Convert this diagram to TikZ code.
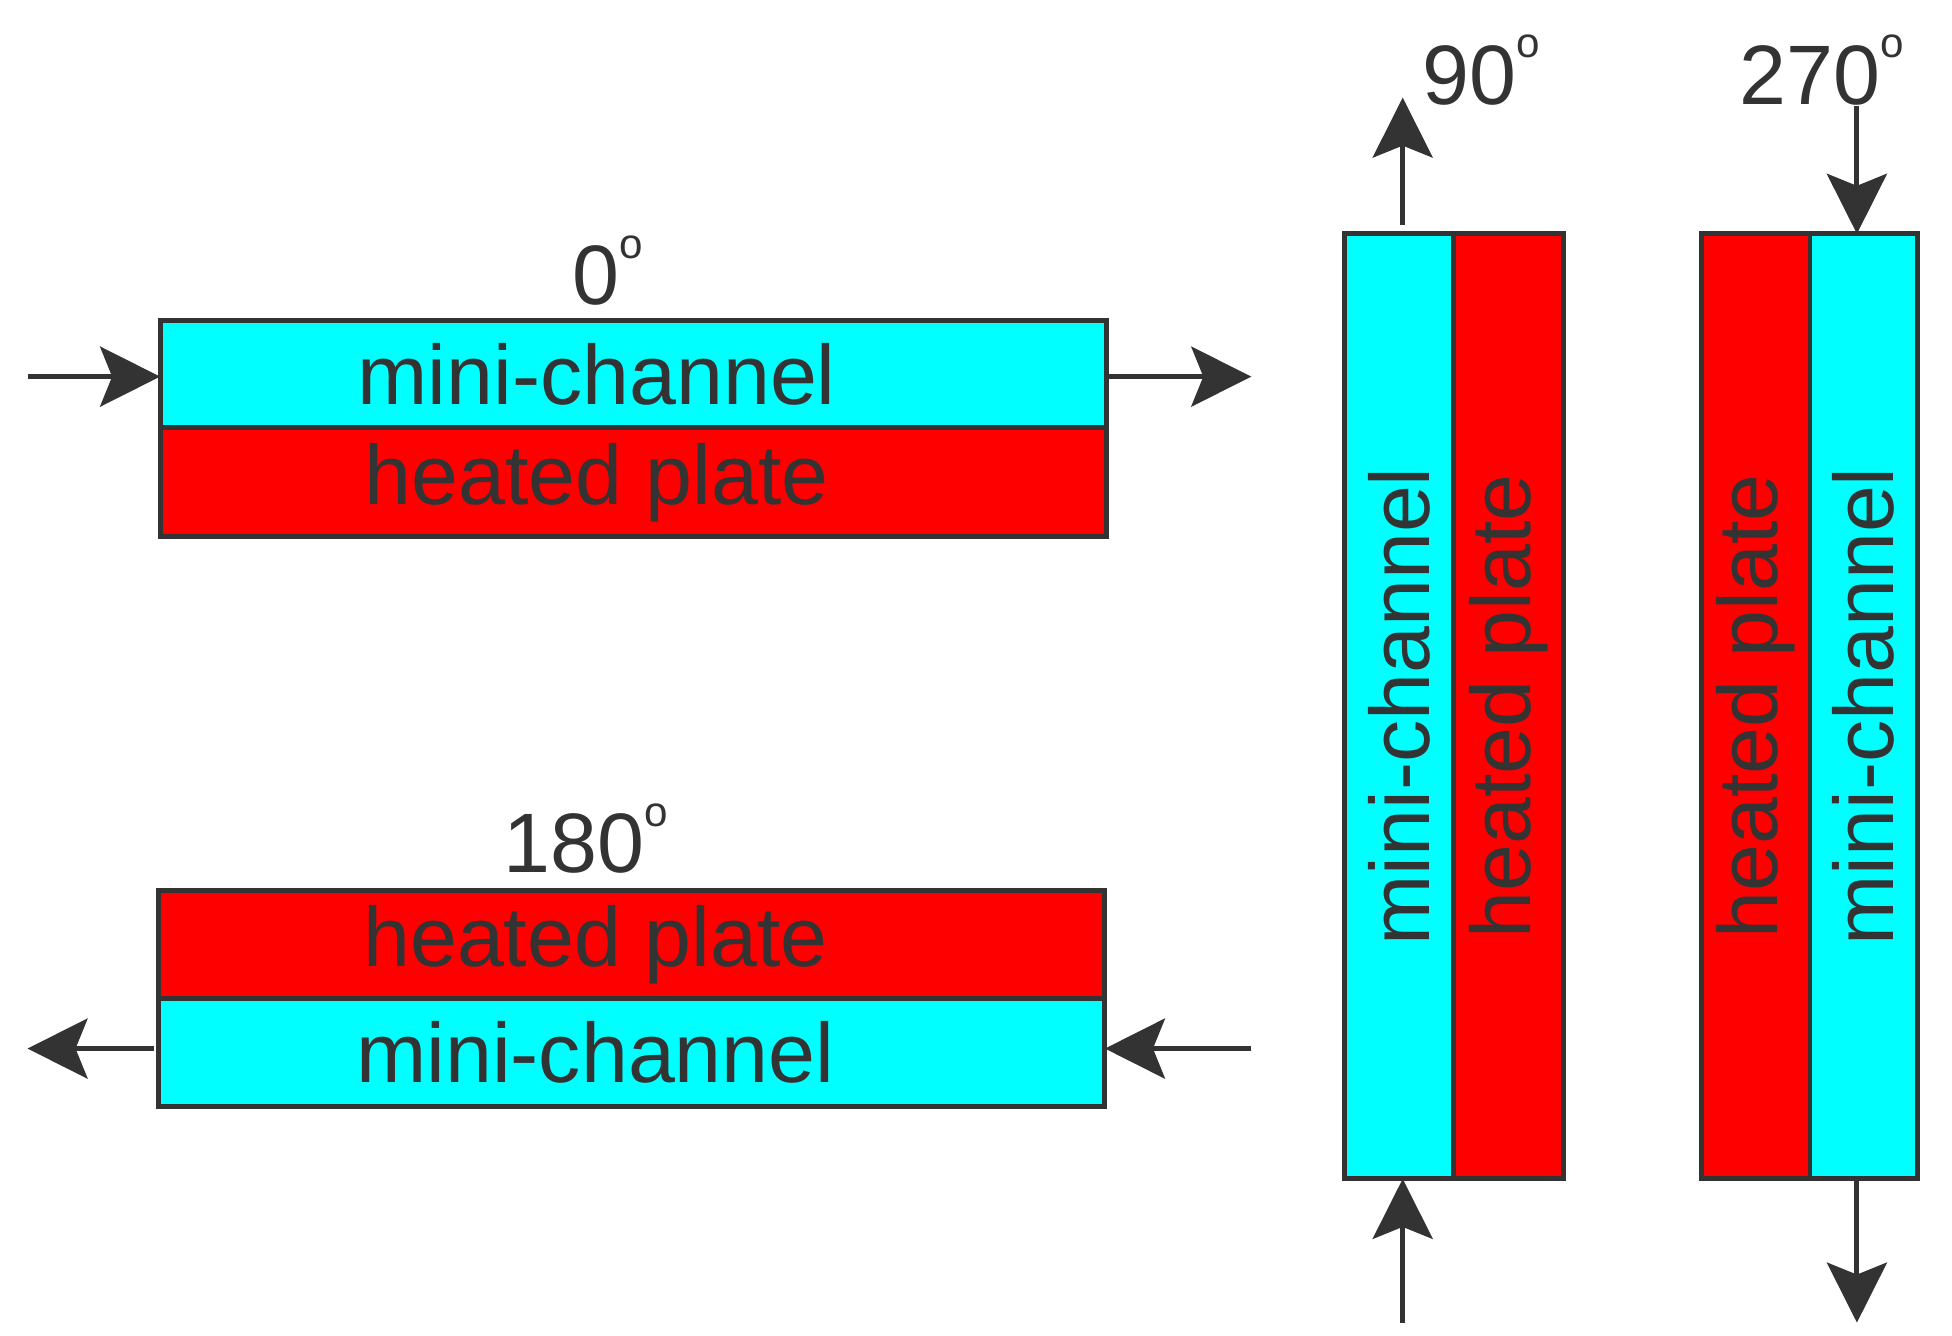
\documentclass[tikz,border=0pt]{standalone}
\usepackage{fontspec}
\setmainfont{Liberation Sans}
\usetikzlibrary{arrows.meta}
\definecolor{ink}{HTML}{333333}
\definecolor{cyn}{RGB}{0,255,255}
\definecolor{rdd}{RGB}{255,0,0}
\begin{document}
\begin{tikzpicture}[x=0.012513cm,y=-0.012513cm,
  box/.style={draw=ink,line width=1.4pt,inner sep=0,outer sep=0,text=ink,font=\fontsize{24}{28}\selectfont},
  cy/.style={box,fill=cyn},
  rd/.style={box,fill=rdd},
  arr/.style={draw=ink,line width=1.4pt,-{Stealth[length=0.6cm,width=0.6cm,inset=0.12cm]}},
  deg/.style={text=ink,font=\fontsize{24}{28}\selectfont,inner sep=0}]
\useasboundingbox (0,0) rectangle (1560,1067.7);
\def\sh{\kern-0.73cm}
\def\dg{\raisebox{0.55em}{\fontsize{12}{12}\selectfont o}}
% 0 deg
\node[cy,minimum width=9.46cm,minimum height=1.076cm] (c0) at (506,299) {\sh mini-channel};
\node[rd,minimum width=9.46cm,minimum height=1.089cm] (r0) at (506,385.5) {\sh heated plate};
\node[deg] (d0) at (486,216) {0\dg};
\coordinate (a0) at (22,301);
\coordinate (b0) at (1000,301);
\draw[arr] (a0) -- (c0.west|-a0);
\draw[arr] (c0.east|-b0) -- (b0);
% 180 deg
\node[rd,minimum width=9.46cm,minimum height=1.076cm] (r1) at (505,755) {\sh heated plate};
\node[cy,minimum width=9.46cm,minimum height=1.076cm] (c1) at (505,841) {\sh mini-channel};
\node[deg] (d1) at (468,670) {180\dg};
\coordinate (a1) at (22,838);
\coordinate (b1) at (1000,838);
\draw[arr] (c1.west|-a1) ++(-4,0) -- (a1);
\draw[arr] (b1) -- (c1.east|-b1);
% 90 deg
\node[cy,minimum width=1.089cm,minimum height=9.45cm] (c2) at (1118,564.5) {\rotatebox{90}{mini-channel}};
\node[rd,minimum width=1.101cm,minimum height=9.45cm] (r2) at (1205.5,564.5) {\rotatebox{90}{heated plate}};
\node[deg] (d2) at (1184,56) {90\dg};
\coordinate (t2) at (1121,78);
\coordinate (u2) at (1121,1057);
\draw[arr] (c2.north-|t2) ++(0,-7) -- (t2);
\draw[arr] (u2) -- (c2.south-|u2);
% 270 deg
\node[rd,minimum width=1.089cm,minimum height=9.45cm] (r3) at (1403,564.5) {\rotatebox{90}{heated plate}};
\node[cy,minimum width=1.076cm,minimum height=9.45cm] (c3) at (1489.5,564.5) {\rotatebox{90}{mini-channel}};
\node[deg] (d3) at (1456,56) {270\dg};
\coordinate (t3) at (1484,85);
\coordinate (u3) at (1484,1057);
\draw[arr] (t3) -- (c3.north-|t3);
\draw[arr] (c3.south-|u3) -- (u3);
\end{tikzpicture}
\end{document}
